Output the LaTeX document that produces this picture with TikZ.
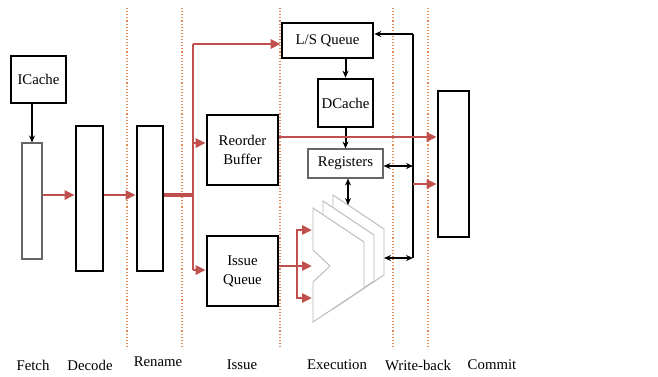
\documentclass[tikz,border=0pt]{standalone}
\usepackage{fontspec}
\setmainfont{Liberation Serif}
\usetikzlibrary{arrows.meta}
\definecolor{pathred}{RGB}{192,80,77}
\definecolor{stagedot}{RGB}{225,140,85}
\tikzset{
	unit/.style={draw, line width=2.6pt, inner sep=0pt, align=center},
	thinunit/.style={draw=black!60, line width=1.1pt, inner sep=0pt, align=center},
	redarrow/.style={draw=pathred, line width=2.8pt, -{Triangle[length=10pt,width=9pt]}},
	redline/.style={draw=pathred, line width=2.8pt},
	blkarrow/.style={line width=2pt, -{Stealth[length=7pt,width=6pt]}},
	blkboth/.style={line width=2pt, {Stealth[length=7pt,width=6pt]}-{Stealth[length=7pt,width=6pt]}},
	stageline/.style={draw=stagedot, line width=1.1pt, dotted},
	alushape/.style={draw=black!28, line width=0.9pt, fill=white}
}

\begin{document}
\begin{tikzpicture}[x=1pt, y=-1pt, font=\fontsize{14.8}{19}\selectfont]
			%%%%% START %%%%%
			\useasboundingbox (0,0) rectangle (658,376);
			
			% pipeline stage borders
			\foreach \x in {127,182,280,393,428}
				\draw[stageline] (\x,8) -- (\x,346);
			
			% front end
			\node[unit, minimum width=55pt, minimum height=47pt] (icache) at (38.5,79.5) {ICache};
			\node[thinunit, minimum width=20pt, minimum height=116pt] (fetch) at (32,201) {};
			\node[unit, minimum width=27pt, minimum height=145pt] (decode) at (89.5,198.5) {};
			\node[unit, minimum width=26pt, minimum height=145pt] (rename) at (150,198.5) {};
			
			% issue and execution
			\node[unit, minimum width=91pt, minimum height=35pt] (lsq) at (327.5,40.5) {L/S Queue};
			\node[unit, minimum width=55pt, minimum height=48pt] (dcache) at (345.5,103) {DCache};
			\node[unit, minimum width=71pt, minimum height=70pt] (rob) at (242.5,150) {Reorder\\Buffer};
			\node[thinunit, minimum width=75pt, minimum height=29pt] (regs) at (345.5,163.5) {Registers};
			\node[unit, minimum width=71pt, minimum height=70pt] (iq) at (242.5,271) {Issue\\Queue};
			\node[unit, minimum width=31pt, minimum height=146pt] (commit) at (453.5,164) {};
			
			% stacked ALUs, back to front
			\foreach \dx/\dy in {20/-13, 10/-7, 0/0}
				\draw[alushape, shift={(\dx,\dy)}] (313,208) -- (364,242) -- (364,288) -- (313,322)
					-- (313,282) -- (330,266) -- (313,250) -- cycle;
			
			\coordinate (mid) at (0,195);
			\coordinate (split) at (193,195);
			\coordinate (robout) at (0,137);
			\coordinate (bustop) at (413,34);
			\coordinate (busbot) at (413,258);
			\coordinate (aluout) at (384,258);
			\coordinate (alutop) at (348,205);
			\coordinate (fork) at (297,266);
			\coordinate (aluA) at (312,230);
			\coordinate (aluB) at (312,266);
			\coordinate (aluC) at (312,298);
			
			% front end connections
			\draw[blkarrow] (fetch.north |- icache.south) -- (fetch.north);
			\draw[redarrow] (fetch.east |- mid) -- (decode.west |- mid);
			\draw[redarrow] (decode.east |- mid) -- (rename.west |- mid);
			\draw[draw=pathred, line width=4.6pt] (rename.east |- mid) -- (split);
			
			% dispatch
			\draw[redline] (193,44) -- (193,270);
			\draw[redarrow] (193,44) -- (lsq.west |- 0,44);
			\draw[redarrow] (193,143) -- (rob.west |- 0,143);
			\draw[redarrow] (193,270) -- (iq.west |- 0,270);
			
			% memory path
			\draw[blkarrow] (dcache.north |- lsq.south) -- (dcache.north);
			\draw[blkarrow] (dcache.south) -- (regs.north -| dcache.south);
			\draw[blkboth] (regs.south -| alutop) -- (alutop);
			
			% issue to ALUs
			\draw[redline] (iq.east |- fork) -- (fork);
			\draw[redarrow] (fork) |- (aluA);
			\draw[redarrow] (fork) -- (aluB);
			\draw[redarrow] (fork) |- (aluC);
			
			% write-back bus
			\draw[line width=2pt] (busbot) -- (bustop);
			\draw[blkarrow] (bustop) -- (lsq.east |- bustop);
			\draw[blkboth] (regs.east |- 0,166) -- (bustop |- 0,166);
			\draw[blkboth] (aluout) -- (busbot);
			
			% to commit
			\draw[redarrow] (rob.east |- robout) -- (commit.west |- robout);
			\draw[redarrow] (bustop |- 0,184) -- (commit.west |- 0,184);
			
			% stage names
			\node (lfetch) at (33,365) {Fetch};
			\node (ldecode) at (90,365) {Decode};
			\node (lrename) at (158,362) {Rename};
			\node (lissue) at (242,365) {Issue};
			\node (lexec) at (337,365) {Execution};
			\node (lwb) at (418,365) {Write-back};
			\node (lcommit) at (492,365) {Commit};
			%%%%% END %%%%%
\end{tikzpicture}
\end{document}
